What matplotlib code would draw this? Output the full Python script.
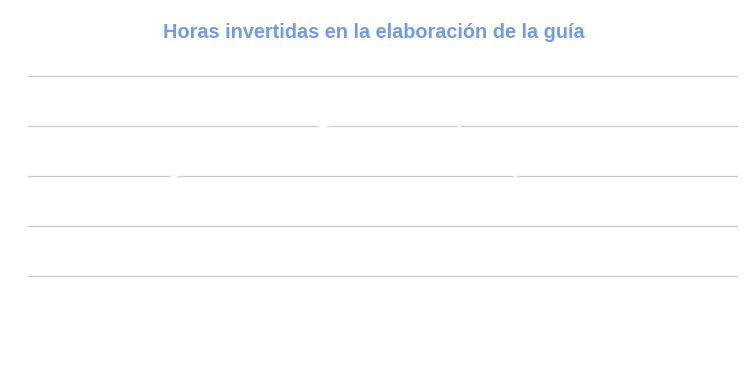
import matplotlib
matplotlib.use("Agg")
import matplotlib.pyplot as plt

# Datos (la serie está dibujada en blanco en el original, casi invisible)
categorias = ["1", "2", "3", "4", "5", "6"]
horas = [14, 22, 30, 33, 12, 11]
ticks_y = [0, 10, 20, 30, 40]

fig = plt.figure(figsize=(7.49, 3.71), dpi=100)
ax = fig.add_axes([28 / 749, 95 / 371, 709 / 749, 200 / 371])

x = list(range(len(categorias)))
ax.plot(x, horas, color="white", linewidth=1.5, marker="o", markersize=3, zorder=3)

ax.set_xlim(-0.5, len(categorias) - 0.5)
ax.set_ylim(ticks_y[0], ticks_y[-1])
ax.set_yticks(ticks_y)
ax.set_xticks([])
ax.yaxis.grid(True, color="#cccccc", linewidth=1)
for gl in ax.get_ygridlines():
    gl.set_clip_on(False)
ax.set_axisbelow(True)
ax.tick_params(left=False, labelleft=False)
for s in ax.spines.values():
    s.set_visible(False)

fig.text(0.4987, 1 - 32.5 / 371, "Horas invertidas en la elaboración de la guía",
         ha="center", va="center", fontsize=14.3, fontweight="bold",
         color="#6f9be8", family="Liberation Sans")

fig.savefig("out.png", dpi=100, facecolor="white")
